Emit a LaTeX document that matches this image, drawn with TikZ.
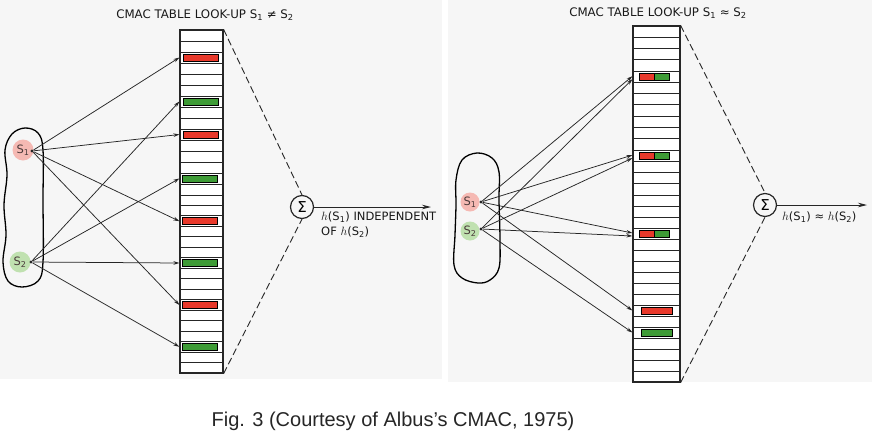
\documentclass[tikz,border=0pt]{standalone}
\usepackage{fontspec}
\setmainfont{Liberation Sans}
\newfontfamily\letterfont{DejaVu Sans}
\usetikzlibrary{arrows.meta}
\definecolor{panelbg}{HTML}{F6F6F6}
\definecolor{barred}{HTML}{E8392B}
\definecolor{bargreen}{HTML}{3E9B36}
\definecolor{pinkc}{HTML}{F5B9B3}
\definecolor{greenc}{HTML}{C0E1B0}
\definecolor{ink}{HTML}{262626}
\definecolor{slabel}{HTML}{4A3A3A}
\begin{document}
\begin{tikzpicture}[x=1pt,y=-1pt,
  tablebox/.style={draw=ink, line width=1.2pt, inner sep=0pt, fill=white},
  rowline/.style={draw=ink, line width=0.9pt},
  barbox/.style={draw=black, line width=0.8pt, inner sep=0pt, minimum height=7pt},
  redbar/.style={barbox, fill=barred},
  greenbar/.style={barbox, fill=bargreen},
  blob/.style={draw=black, line width=1.3pt},
  scirc/.style={circle, inner sep=0pt, minimum size=21pt, text=slabel,
     font=\letterfont\fontsize{11.5}{12}\selectfont},
  sdot/.style={circle, fill=ink, inner sep=0pt, minimum size=3.2pt},
  conn/.style={draw=ink, line width=0.75pt, -{Stealth[length=6pt,width=3.6pt]}},
  outarrow/.style={draw=ink, line width=0.9pt, -{Stealth[length=9pt,width=4.5pt]}},
  dashline/.style={draw=ink, line width=0.9pt, dash pattern=on 7pt off 3.5pt},
  sumc/.style={circle, draw=ink, line width=1.2pt, minimum size=23pt, inner sep=0pt,
     font=\letterfont\fontsize{15}{16}\selectfont},
  titletext/.style={font=\letterfont\fontsize{11.8}{14}\selectfont, text=black!90, inner sep=0pt},
  labtext/.style={font=\letterfont\fontsize{11.5}{15}\selectfont, text=black!90, inner sep=0pt, align=left},
  captext/.style={font=\fontsize{20}{24}\selectfont, text=black!85, inner sep=0pt}
]
\useasboundingbox (0,0) rectangle (872,442);
\fill[white] (0,0) rectangle (872,442);
\fill[panelbg] (0,0) rectangle (442,379);
\fill[panelbg] (448,0) rectangle (872,382);

% ===================== LEFT PANEL =====================
\node[titletext] (T1) at (205,15) {CMAC TABLE LOOK-UP S\textsubscript{1} ≠ S\textsubscript{2}};

\node[tablebox, minimum width=43pt, minimum height=343pt] (LT) at (201.5,201.5) {};
\foreach \k in {1,...,15} \draw[rowline] (180,30+11*\k) -- (223,30+11*\k);
\foreach \k in {16,...,31} \draw[rowline] (180,195+10.47*\k-157.05) -- (223,195+10.47*\k-157.05);

\node[redbar, minimum width=35pt]   (Lb1) at (200.5,57.5) {};
\node[greenbar, minimum width=35pt] (Lb2) at (200.5,101.5) {};
\node[redbar, minimum width=35pt]   (Lb3) at (200.5,134.5) {};
\node[greenbar, minimum width=35pt] (Lb4) at (199.5,178.5) {};
\node[redbar, minimum width=35pt]   (Lb5) at (199.5,221.2) {};
\node[greenbar, minimum width=35pt] (Lb6) at (199.5,263) {};
\node[redbar, minimum width=35pt]   (Lb7) at (199.5,305) {};
\node[greenbar, minimum width=35pt] (Lb8) at (199.5,346.8) {};

\draw[blob] plot[smooth cycle, tension=0.6] coordinates {
  (25,128) (38,133) (43,150) (43,200) (43,262) (38,281) (22,287) (8,281)
  (3,262) (6,235) (4,205) (7,175) (5,150) (12,134)};

\node[scirc, fill=pinkc]  (LS1) at (23,150) {S\textsubscript{1}};
\node[scirc, fill=greenc] (LS2) at (20,262) {S\textsubscript{2}};
\node[sdot] (Ld1) at (32,151) {};
\node[sdot] (Ld2) at (31,262) {};

\foreach \b in {Lb1,Lb3,Lb5,Lb7} \draw[conn] (Ld1) -- (LT.west |- \b);
\foreach \b in {Lb2,Lb4,Lb6,Lb8} \draw[conn] (Ld2) -- (LT.west |- \b);

\node[sumc] (LSum) at (302,207) {Σ};
\draw[dashline] (LT.north east) -- (LSum.north);
\draw[dashline] (LT.south east) -- (LSum.south);
\coordinate (LOut) at (431,207);
\draw[outarrow] (LSum.east) -- (LOut);
\node[labtext, anchor=north west] (LLab) at (321,212)
  {$h$(S\textsubscript{1}) INDEPENDENT\\OF $h$(S\textsubscript{2})};

% ===================== RIGHT PANEL =====================
\node[titletext] (T2) at (658,13) {CMAC TABLE LOOK-UP S\textsubscript{1} ≈ S\textsubscript{2}};

\node[tablebox, minimum width=47pt, minimum height=356pt] (RT) at (656.5,204) {};
\foreach \k in {1,...,15} \draw[rowline] (633,26+11.27*\k) -- (680,26+11.27*\k);
\foreach \k in {16,...,31} \draw[rowline] (633,195+11*\k-165) -- (680,195+11*\k-165);

\node[redbar, minimum width=15pt]   (Rp1r) at (646.5,76.7) {};
\node[greenbar, minimum width=15pt] (Rp1g) at (661.5,76.7) {};
\node[redbar, minimum width=15pt]   (Rp2r) at (646.5,155.6) {};
\node[greenbar, minimum width=15pt] (Rp2g) at (661.5,155.6) {};
\node[redbar, minimum width=15pt]   (Rp3r) at (646.5,233.5) {};
\node[greenbar, minimum width=15pt] (Rp3g) at (661.5,233.5) {};
\node[redbar, minimum width=31pt]   (Rb4) at (657,310.5) {};
\node[greenbar, minimum width=31pt] (Rb5) at (657,332.5) {};

\draw[blob] plot[smooth cycle, tension=0.6] coordinates {
  (477,153) (492,158) (499,172) (499,200) (500,240) (499,268) (490,280) (478,283)
  (462,278) (454,265) (455,235) (456,205) (456,180) (462,160)};

\node[scirc, fill=pinkc, minimum size=19pt]  (RS1) at (470,202) {S\textsubscript{1}};
\node[scirc, fill=greenc, minimum size=19pt] (RS2) at (470,231) {S\textsubscript{2}};
\node[sdot] (Rd1) at (481,202) {};
\node[sdot] (Rd2) at (481,229) {};

\foreach \b in {Rp1r,Rp2r,Rp3r} \draw[conn] (Rd1) -- ([yshift=0.5pt]RT.west |- \b);
\foreach \b in {Rp1g,Rp2g,Rp3g} \draw[conn] (Rd2) -- ([yshift=-2.5pt]RT.west |- \b);
\draw[conn] (Rd1) -- (RT.west |- Rb4);
\draw[conn] (Rd2) -- (RT.west |- Rb5);

\node[sumc] (RSum) at (765,205) {Σ};
\draw[dashline] (RT.north east) -- (RSum.north);
\draw[dashline] (RT.south east) -- (RSum.south);
\coordinate (ROut) at (867,205);
\draw[outarrow] (RSum.east) -- (ROut);
\node[labtext, anchor=west] (RLab) at (782,217)
  {$h$(S\textsubscript{1}) ≈ $h$(S\textsubscript{2})};

% ===================== CAPTION =====================
\node[captext] (Cap) at (393,421) {Fig. 3 (Courtesy of Albus’s CMAC, 1975)};
\end{tikzpicture}
\end{document}
